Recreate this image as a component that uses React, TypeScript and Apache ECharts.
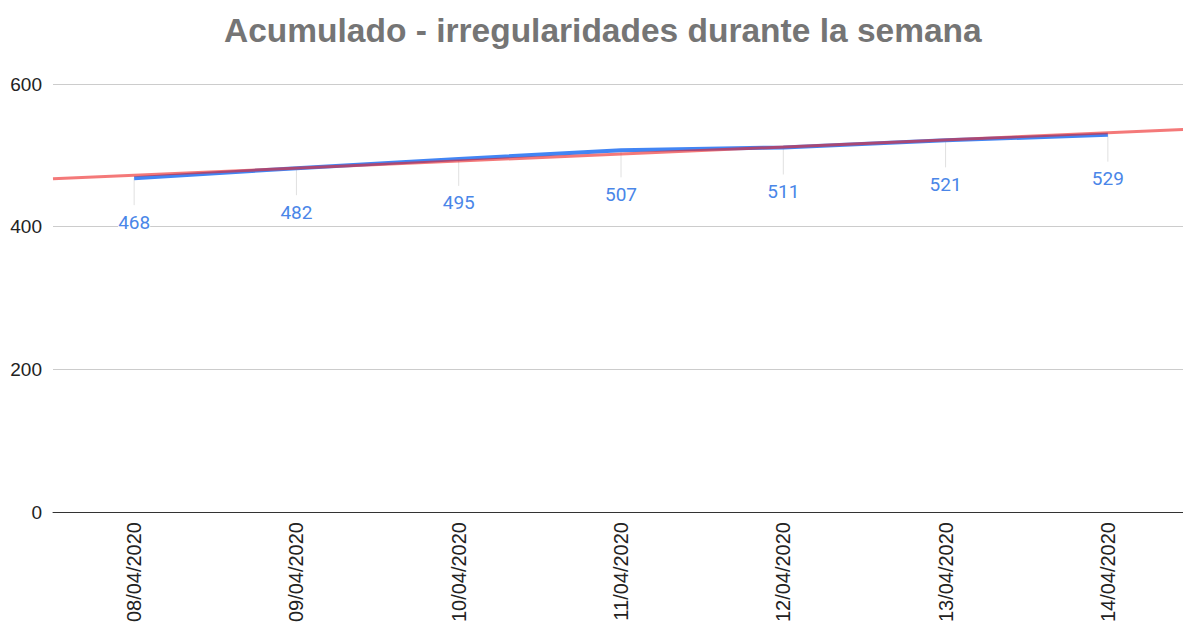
import React, { useEffect, useRef } from "react";
import * as echarts from "echarts";

const categories = ["08/04/2020", "09/04/2020", "10/04/2020", "11/04/2020", "12/04/2020", "13/04/2020", "14/04/2020"];
const values = [468, 482, 495, 507, 511, 521, 529];
const yTicks = { min: 0, max: 600, interval: 200 };
const titleText = "Acumulado - irregularidades durante la semana";

function linearFit(ys: number[]) {
  const n = ys.length;
  const mx = (n - 1) / 2;
  const my = ys.reduce((a, b) => a + b, 0) / n;
  let num = 0;
  let den = 0;
  ys.forEach((y, i) => {
    num += (i - mx) * (y - my);
    den += (i - mx) * (i - mx);
  });
  const slope = num / den;
  return (x: number) => my + slope * (x - mx);
}

export default function App() {
  const ref = useRef<HTMLDivElement>(null);
  useEffect(() => {
    if (!ref.current) return;
    const chart = echarts.init(ref.current, null, { renderer: "svg" });
    const fit = linearFit(values);
    const x0 = -0.5;
    const x1 = categories.length - 0.5;
    const font = "Arial, 'Liberation Sans', sans-serif";
    chart.setOption({
      animation: false,
      title: {
        text: titleText,
        left: 219,
        top: 8,
        textStyle: { fontFamily: font, fontSize: 33.5, fontWeight: "bold", color: "#757575" },
      },
      grid: { left: 53, right: -6, top: 84, bottom: 110, containLabel: false, outerBoundsMode: "none" },
      xAxis: [
        {
          type: "category",
          data: categories,
          boundaryGap: true,
          axisLine: { show: true, lineStyle: { color: "#333", width: 1 } },
          axisTick: { show: false },
          axisLabel: { rotate: 90, fontFamily: font, fontSize: 20, color: "#222", margin: 10 },
          splitLine: { show: false },
        },
        {
          type: "value",
          min: x0,
          max: x1,
          show: false,
          splitLine: { show: false },
        },
      ],
      yAxis: {
        type: "value",
        min: yTicks.min,
        max: yTicks.max,
        interval: yTicks.interval,
        axisLine: { show: false },
        axisTick: { show: false },
        axisLabel: { fontFamily: font, fontSize: 19, color: "#222", margin: 11 },
        splitLine: { lineStyle: { color: "#cccccc", width: 1 } },
      },
      series: [
        {
          type: "custom",
          xAxisIndex: 0,
          z: 1,
          data: values.map((v, i) => [i, v]),
          renderItem: (params: any, api: any) => {
            const p = api.coord([api.value(0), api.value(1)]);
            return {
              type: "group",
              children: [
                {
                  type: "line",
                  shape: { x1: p[0], y1: p[1], x2: p[0], y2: p[1] + 27 },
                  style: { stroke: "#e0e0e0", lineWidth: 1 },
                },
                {
                  type: "text",
                  x: p[0],
                  y: p[1] + 44,
                  style: {
                    text: String(api.value(1)),
                    fill: "#4a86e8",
                    font: "19px Roboto, Arial, sans-serif",
                    align: "center",
                    verticalAlign: "middle",
                    backgroundColor: "#ffffff",
                  },
                },
              ],
            };
          },
        },
        {
          type: "line",
          xAxisIndex: 0,
          data: values,
          z: 2,
          symbol: "none",
          lineStyle: { color: "#4285f4", width: 4 },
          itemStyle: { color: "#4285f4" },
        },
        {
          type: "line",
          xAxisIndex: 1,
          z: 3,
          symbol: "none",
          data: [
            [x0, fit(x0)],
            [x1, fit(x1)],
          ],
          lineStyle: { color: "rgba(236, 32, 32, 0.6)", width: 3 },
          itemStyle: { color: "rgba(236, 32, 32, 0.6)" },
        },
      ],
    });
    return () => chart.dispose();
  }, []);
  return <div ref={ref} style={{ position: "absolute", left: 0, top: 0, width: 1183, height: 622 }} />;
}
